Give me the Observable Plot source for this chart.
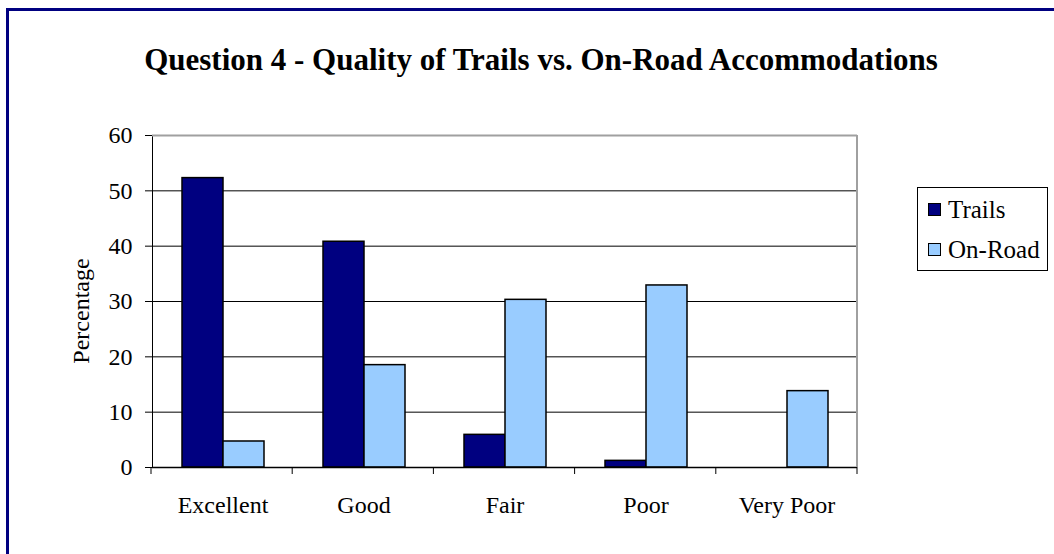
<!DOCTYPE html>
<html><head><meta charset="utf-8">
<script src="https://cdn.jsdelivr.net/npm/d3@7"></script>
<script src="https://cdn.jsdelivr.net/npm/@observablehq/plot@0.6"></script>
<style>
body{margin:0;background:#fff;}
#wrap{position:relative;width:1054px;height:554px;overflow:hidden;font-family:"Liberation Serif","Times New Roman",serif;color:#000;}
#border{position:absolute;left:6px;top:8px;width:1200px;height:700px;border-left:3px solid #000080;border-top:3px solid #000080;}
#title{position:absolute;left:0;width:1082px;top:44px;line-height:31px;text-align:center;font-weight:bold;font-size:31px;white-space:nowrap;}
#chart{position:absolute;left:0;top:0;}
#legend{position:absolute;left:917px;top:187px;width:129px;height:82px;border:1px solid #000;background:#fff;font-size:25px;}
.item{position:absolute;left:10px;height:24px;line-height:24px;white-space:nowrap;}
.sw{position:absolute;left:0;top:5px;width:11px;height:11px;border:1.5px solid #000;}
.lab{position:absolute;left:20px;top:0;}
</style>
</head><body>
<div id="wrap">
  <div id="border"></div>
  <div id="chart"></div>
  <div id="title"></div>
  <div id="legend"></div>
</div>
<script>
const titleText = "Question 4 - Quality of Trails vs. On-Road Accommodations";
const categories = ["Excellent", "Good", "Fair", "Poor", "Very Poor"];
const series = ["Trails", "On-Road"];
const trails = [52.3, 40.8, 5.9, 1.2, 0];
const onRoad = [4.7, 18.5, 30.3, 32.9, 13.8];
const colors = ["#000080", "#99CCFF"];
const yTicks = [0, 10, 20, 30, 40, 50, 60];
const yLabel = "Percentage";

const rows = categories.flatMap((c, i) => [
  {category: c, series: series[0], value: trails[i]},
  {category: c, series: series[1], value: onRoad[i]}
]);

document.getElementById("title").textContent = titleText;

const plot = Plot.plot({
  width: 1054,
  height: 554,
  marginLeft: 151,
  marginRight: 197,
  marginTop: 135,
  marginBottom: 87,
  style: {fontFamily: '"Liberation Serif", "Times New Roman", serif', fontSize: "24px", color: "#000", background: "transparent", overflow: "visible"},
  facet: {data: rows, x: "category"},
  fx: {domain: categories, padding: 0, axis: "bottom", tickSize: 0, tickPadding: 28, label: null},
  x: {domain: series, paddingInner: 0, paddingOuter: 0.71, axis: null},
  y: {domain: [0, 60], ticks: yTicks, tickSize: 7, tickPadding: 13, label: null, line: true},
  color: {domain: series, range: colors},
  marks: [
    Plot.ruleY(yTicks.filter(t => t > 0 && t < 60), {stroke: "#000", strokeWidth: 1}),
    Plot.ruleY([60], {stroke: "#a0a0a0", strokeWidth: 2}),
    Plot.barY(rows, {x: "series", y: "value", fill: "series", stroke: "#000", strokeWidth: 1.5}),
    Plot.ruleY([0], {stroke: "#000", strokeWidth: 1.5})
  ]
});
document.getElementById("chart").appendChild(plot);

// Category boundary ticks, right plot border and y label, from the plot's own scales
const svg = d3.select(plot);
const ys = plot.scale("y");
const yScale = d3.scaleLinear(ys.domain, ys.range);
const fxs = plot.scale("fx");
const g = svg.append("g");
if (fxs) {
  const band = d3.scaleBand(fxs.domain, fxs.range).paddingInner(fxs.paddingInner || 0).paddingOuter(fxs.paddingOuter || 0);
  const edges = fxs.domain.map(d => band(d)).concat([band(fxs.domain[fxs.domain.length - 1]) + band.bandwidth()]);
  const y0 = yScale(0);
  g.selectAll("line.tk").data(edges).join("line")
    .attr("x1", d => d).attr("x2", d => d)
    .attr("y1", y0).attr("y2", y0 + 7)
    .attr("stroke", "#000");
  const xr = edges[edges.length - 1];
  g.append("line").attr("x1", xr).attr("x2", xr)
    .attr("y1", yScale(60)).attr("y2", y0)
    .attr("stroke", "#a0a0a0").attr("stroke-width", 2);
}
g.append("text")
  .attr("transform", `translate(89,${(yScale(0) + yScale(60)) / 2 + 10}) rotate(-90)`)
  .attr("text-anchor", "middle")
  .attr("font-size", 24)
  .attr("fill", "#000")
  .text(yLabel);

// Legend
const legend = d3.select("#legend");
series.forEach((s, i) => {
  const it = legend.append("div").attr("class", "item").style("top", (i === 0 ? 10 : 50) + "px");
  it.append("div").attr("class", "sw").style("background", colors[i]);
  it.append("div").attr("class", "lab").text(s);
});
</script>
</body></html>
